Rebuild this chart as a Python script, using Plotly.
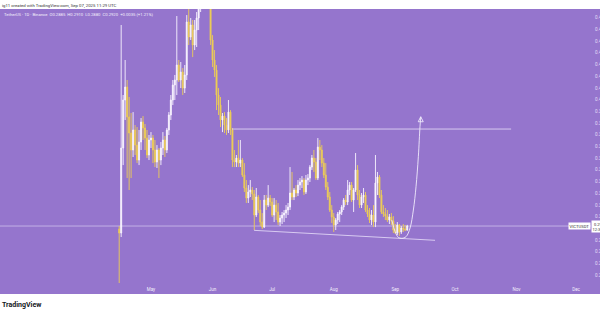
import pandas as pd
import plotly.graph_objects as go

# ---- data (daily candles, VICT/USDT, Binance, 1D) ----
start_date = "2025-04-15"
opens = [0.2894,0.2860,0.3587,0.3997,0.4108,0.3852,0.3715,0.3570,0.3741,0.3612,
         0.3484,0.3638,0.3809,0.3758,0.3672,0.3527,0.3655,0.3672,0.3570,0.3467,
         0.3570,0.3484,0.3587,0.3655,0.3570,0.3741,0.3869,0.3997,0.4125,0.4168,
         0.4296,0.4168,0.4236,0.4099,0.4211,0.4664,0.4535,0.4638,0.4467,0.4595,
         0.4698,0.4800,0.5023,0.5364,0.5108,0.5450,0.4937,0.4510,0.4339,0.4253,
         0.4040,0.3954,0.3826,0.3860,0.3783,0.3741,0.3894,0.3741,0.3484,0.3467,
         0.3501,0.3458,0.3484,0.3356,0.3245,0.3159,0.3211,0.3228,0.3194,0.3014,
         0.3168,0.3057,0.2954,0.2911,0.3142,0.3099,0.3159,0.3125,0.3014,0.3099,
         0.3040,0.2954,0.2988,0.3014,0.3031,0.3057,0.3082,0.3202,0.3168,0.3228,
         0.3202,0.3270,0.3296,0.3313,0.3211,0.3313,0.3330,0.3424,0.3501,0.3467,
         0.3330,0.3595,0.3570,0.3458,0.3356,0.3253,0.3168,0.3057,0.2997,0.2929,
         0.2971,0.3023,0.3040,0.3082,0.3142,0.3125,0.3228,0.3270,0.3142,0.3228,
         0.3399,0.3185,0.3099,0.3168,0.3185,0.3057,0.3023,0.2971,0.3014,0.2954,
         0.3288,0.3339,0.3185,0.3040,0.3023,0.3005,0.2971,0.2997,0.2963,0.2886,
         0.2860,0.2929,0.2869,0.2903,0.2894,0.2885]
highs = [0.2920,0.4638,0.4040,0.4339,0.4168,0.4023,0.3886,0.3894,0.3783,0.3766,
         0.3741,0.3843,0.3860,0.3792,0.3741,0.3698,0.3723,0.3698,0.3655,0.3612,
         0.3587,0.3638,0.3723,0.3689,0.3758,0.3894,0.4040,0.4168,0.4211,0.4715,
         0.4339,0.4322,0.4270,0.4296,0.4723,0.4809,0.4698,0.4681,0.4681,0.4749,
         0.4852,0.5193,0.5535,0.5621,0.5706,0.5792,0.5023,0.4552,0.4424,0.4296,
         0.4099,0.4023,0.3886,0.3894,0.3843,0.3997,0.3911,0.3758,0.3570,0.3527,
         0.3655,0.3655,0.3501,0.3458,0.3313,0.3270,0.3313,0.3253,0.3228,0.3245,
         0.3185,0.3142,0.3031,0.3185,0.3185,0.3270,0.3185,0.3159,0.3159,0.3142,
         0.3117,0.3014,0.3040,0.3057,0.3099,0.3117,0.3424,0.3382,0.3245,0.3270,
         0.3313,0.3330,0.3347,0.3330,0.3356,0.3364,0.3441,0.3527,0.3570,0.3501,
         0.3672,0.3655,0.3612,0.3501,0.3458,0.3296,0.3211,0.3099,0.3031,0.2988,
         0.3040,0.3057,0.3099,0.3159,0.3185,0.3313,0.3296,0.3296,0.3245,0.3544,
         0.3441,0.3228,0.3202,0.3245,0.3211,0.3099,0.3074,0.3057,0.3099,0.3527,
         0.3382,0.3356,0.3228,0.3099,0.3074,0.3057,0.3023,0.3031,0.3005,0.2937,
         0.2954,0.2937,0.2920,0.2937,0.2929,0.2930]
lows = [0.2433,0.2826,0.3441,0.3826,0.3330,0.3228,0.3330,0.3510,0.3527,0.3458,
        0.3441,0.3570,0.3655,0.3570,0.3501,0.3484,0.3587,0.3458,0.3424,0.3416,
        0.3330,0.3441,0.3527,0.3510,0.3544,0.3698,0.3826,0.3954,0.3997,0.4040,
        0.4151,0.4099,0.4040,0.4057,0.4168,0.4467,0.4510,0.4364,0.4424,0.4450,
        0.4595,0.4749,0.4937,0.5023,0.5065,0.4894,0.4467,0.4279,0.4194,0.3911,
        0.3869,0.3766,0.3723,0.3715,0.3698,0.3715,0.3698,0.3424,0.3424,0.3424,
        0.3424,0.3424,0.3339,0.3211,0.3117,0.3117,0.3168,0.3142,0.2886,0.2997,
        0.3031,0.2920,0.2894,0.2903,0.3057,0.3082,0.3091,0.2997,0.2954,0.2971,
        0.2929,0.2920,0.2937,0.2954,0.2988,0.3014,0.3057,0.3142,0.3142,0.3168,
        0.3176,0.3228,0.3245,0.3185,0.3194,0.3270,0.3296,0.3399,0.3382,0.3313,
        0.3313,0.3484,0.3424,0.3330,0.3228,0.3142,0.3040,0.2946,0.2869,0.2886,
        0.2937,0.2954,0.3014,0.3057,0.3099,0.3099,0.3185,0.3125,0.3040,0.3211,
        0.3142,0.3074,0.3074,0.3117,0.3040,0.2997,0.2946,0.2929,0.2911,0.2911,
        0.3185,0.3159,0.3023,0.2997,0.2971,0.2954,0.2937,0.2929,0.2860,0.2852,
        0.2843,0.2835,0.2852,0.2869,0.2877,0.2880]
closes = [0.2860,0.3587,0.3997,0.4108,0.3852,0.3715,0.3570,0.3741,0.3612,0.3484,
          0.3638,0.3809,0.3758,0.3672,0.3527,0.3655,0.3672,0.3570,0.3467,0.3570,
          0.3484,0.3587,0.3655,0.3570,0.3741,0.3869,0.3997,0.4125,0.4168,0.4296,
          0.4168,0.4236,0.4099,0.4211,0.4664,0.4535,0.4638,0.4467,0.4595,0.4698,
          0.4800,0.5023,0.5364,0.5108,0.5450,0.4937,0.4510,0.4339,0.4253,0.4040,
          0.3954,0.3826,0.3860,0.3783,0.3741,0.3894,0.3741,0.3484,0.3467,0.3501,
          0.3458,0.3484,0.3356,0.3245,0.3159,0.3211,0.3228,0.3194,0.3014,0.3168,
          0.3057,0.2954,0.2911,0.3142,0.3099,0.3159,0.3125,0.3014,0.3099,0.3040,
          0.2954,0.2988,0.3014,0.3031,0.3057,0.3082,0.3202,0.3168,0.3228,0.3202,
          0.3270,0.3296,0.3313,0.3211,0.3313,0.3330,0.3424,0.3501,0.3467,0.3330,
          0.3595,0.3570,0.3458,0.3356,0.3253,0.3168,0.3057,0.2997,0.2929,0.2971,
          0.3023,0.3040,0.3082,0.3142,0.3125,0.3228,0.3270,0.3142,0.3228,0.3399,
          0.3185,0.3099,0.3168,0.3185,0.3057,0.3023,0.2971,0.3014,0.2954,0.3288,
          0.3339,0.3185,0.3040,0.3023,0.3005,0.2971,0.2997,0.2963,0.2886,0.2860,
          0.2929,0.2869,0.2903,0.2894,0.2885,0.2920]
dates = pd.date_range(start_date, periods=len(opens), freq="D")

# drawings
resist_x = ["2025-06-10 19:00", "2025-10-29 07:00"]
resist_y = [0.3749, 0.3749]
support_x = ["2025-06-21 22:00", "2025-09-21 00:00"]
support_y = [0.2883, 0.2798]
proj_x = ["2025-08-30 05:00", "2025-08-31 22:00", "2025-09-02 12:00", "2025-09-04 05:00",
          "2025-09-06 10:00", "2025-09-08 10:00", "2025-09-10 02:00", "2025-09-11 10:00",
          "2025-09-12 14:00", "2025-09-13 10:00", "2025-09-13 19:00"]
proj_y = [0.2971, 0.2871, 0.2823, 0.2815, 0.2829, 0.2903, 0.3057, 0.3256, 0.3512, 0.3769, 0.3854]
last_price = 0.2920

month_ticks = ["2025-05-01", "2025-06-01", "2025-07-01", "2025-08-01",
               "2025-09-01", "2025-10-01", "2025-11-01", "2025-12-01"]
month_labels = ["May", "Jun", "Jul", "Aug", "Sep", "Oct", "Nov", "Dec"]
price_ticks = [0.25, 0.26, 0.27, 0.28, 0.29, 0.30, 0.31, 0.32, 0.33, 0.34, 0.35, 0.36,
               0.37, 0.38, 0.39, 0.40, 0.41, 0.42, 0.43, 0.44, 0.45, 0.46, 0.47]

PURPLE = "#9575CD"
LAV = "rgba(236,228,252,0.85)"
FONT = "Roboto, Liberation Sans, sans-serif"

fig = go.Figure()
fig.add_trace(go.Candlestick(
    x=dates, open=opens, high=highs, low=lows, close=closes,
    increasing=dict(line=dict(color="rgba(248,244,255,0.9)", width=1), fillcolor="#FFFFFF"),
    decreasing=dict(line=dict(color="rgba(236,204,86,0.9)", width=1), fillcolor="#F2D04C"),
    whiskerwidth=0, showlegend=False, hoverinfo="skip"))

fig.add_trace(go.Scatter(x=resist_x, y=resist_y, mode="lines",
                         line=dict(color="rgba(232,224,250,0.8)", width=1),
                         showlegend=False, hoverinfo="skip"))
fig.add_trace(go.Scatter(x=support_x, y=support_y, mode="lines",
                         line=dict(color="rgba(232,224,250,0.8)", width=1),
                         showlegend=False, hoverinfo="skip"))
fig.add_trace(go.Scatter(x=proj_x, y=proj_y, mode="lines",
                         line=dict(color="rgba(240,234,252,0.9)", width=1, shape="spline"),
                         showlegend=False, hoverinfo="skip"))
fig.add_trace(go.Scatter(x=proj_x[-1:], y=proj_y[-1:], mode="markers",
                         marker=dict(symbol="arrow-up-open", size=5,
                                     color="rgba(240,234,252,0.9)",
                                     line=dict(width=1, color="rgba(240,234,252,0.9)")),
                         showlegend=False, hoverinfo="skip"))

W, H = 600, 315
ml, mr, mt, mb = 0, 9, 9, 32
ph = H - mt - mb

shapes = [
    # current price line
    dict(type="line", xref="paper", yref="y", x0=0, x1=1, y0=last_price, y1=last_price,
         line=dict(color="rgba(225,215,248,0.6)", width=1), layer="below"),
    # white top strip
    dict(type="rect", xref="paper", yref="paper", x0=-0.02, x1=1.05,
         y0=1, y1=1 + 12 / ph, fillcolor="white", line=dict(width=0), layer="below"),
    # white bottom strip
    dict(type="rect", xref="paper", yref="paper", x0=-0.02, x1=1.05,
         y0=-(294 - (H - mb)) / ph, y1=-0.2, fillcolor="white", line=dict(width=0), layer="below"),
]

annotations = [
    dict(xref="paper", yref="paper", x=0, y=1 + 4 / ph, xanchor="left", yanchor="middle",
         text="ig11 created with TradingView.com, Sep 07, 2025 11:29 UTC", showarrow=False,
         font=dict(family=FONT, size=4.3, color="#333333")),
    dict(xref="paper", yref="paper", x=2 / 591, y=1 - 5.7 / ph, xanchor="left", yanchor="middle",
         text="TetherUS · 1D · Binance  O0.2885  H0.2910  L0.2880  C0.2920  +0.0035 (+1.21%)",
         showarrow=False, font=dict(family=FONT, size=4.2, color="#F4F0FC")),
    dict(xref="paper", yref="paper", x=0, y=-(304.5 - (H - mb)) / ph, xanchor="left",
         yanchor="middle", text="<b>TradingView</b>", showarrow=False,
         font=dict(family=FONT, size=7, color="#131722")),
    dict(xref="paper", yref="y", x=1, y=last_price, xanchor="right", yanchor="middle",
         text="VICTUSDT", showarrow=False, bgcolor="white", borderpad=0.5,
         font=dict(family=FONT, size=4.2, color="#333333")),
    dict(xref="paper", yref="y", x=1, y=last_price, xanchor="left", yanchor="middle",
         text="0.2920<br>12:30:41", showarrow=False, bgcolor="white", borderpad=0.5,
         font=dict(family=FONT, size=4, color="#333333")),
]

fig.update_layout(
    width=W, height=H,
    margin=dict(l=ml, r=mr, t=mt, b=mb, pad=0),
    paper_bgcolor=PURPLE, plot_bgcolor=PURPLE,
    showlegend=False,
    shapes=shapes, annotations=annotations,
    xaxis=dict(type="date", range=["2025-02-14", "2025-12-08 12:00"],
               rangeslider=dict(visible=False), showgrid=False, zeroline=False,
               showline=False, ticks="", tickvals=month_ticks, ticktext=month_labels,
               tickfont=dict(family=FONT, size=4.5, color="#F4F0FC"),
               ticklabelstandoff=2, automargin=False, fixedrange=True),
    yaxis=dict(side="right", range=[0.2433, 0.4775], showgrid=False, zeroline=False,
               showline=False, ticks="", tickvals=price_ticks, tickformat=".4f",
               tickfont=dict(family=FONT, size=4.5, color="#E6DDF7"),
               ticklabelstandoff=3, automargin=False, fixedrange=True),
)

fig.write_html("out.html")
